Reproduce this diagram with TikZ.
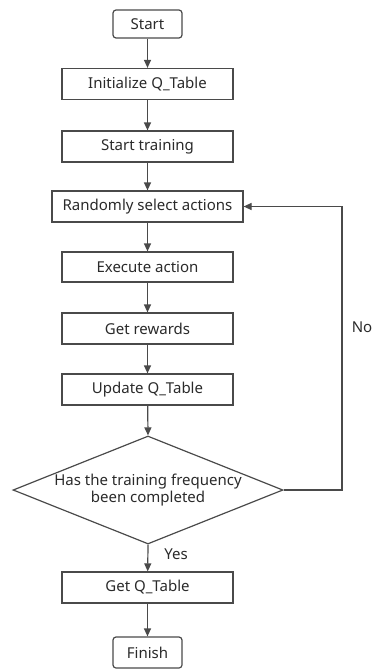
\documentclass[tikz,border=0pt]{standalone}
\usepackage{fontspec}
\setmainfont{Noto Sans}
\usetikzlibrary{shapes.geometric,arrows.meta}
\definecolor{linegray}{HTML}{4A4A4A}
\definecolor{txtgray}{HTML}{2A2A2A}
\begin{document}
\begin{tikzpicture}[x=1pt,y=-1pt,
  every node/.style={font=\fontsize{15}{18}\selectfont, text=txtgray},
  box/.style={draw=linegray, line width=1.2pt, rectangle, minimum width=171pt, minimum height=31pt, inner sep=0pt},
  terminal/.style={box, rounded corners=3pt, minimum width=69pt},
  flow/.style={draw=linegray, line width=1.2pt, -{Triangle[width=7pt,length=8pt]}}]
\useasboundingbox (0,0) rectangle (373,669);
\node[terminal, minimum height=28pt] (start) at (147.5,24) {Start};
\node[box] (init) at (147.5,84) {Initialize Q\_Table};
\node[box] (train) at (147.5,146.5) {Start training};
\node[box, minimum width=191pt] (rand) at (147.5,206.5) {Randomly select actions};
\node[box, minimum height=30pt] (exec) at (147.5,267) {Execute action};
\node[box] (rew) at (147.5,328.5) {Get rewards};
\node[box] (upd) at (147.5,389.5) {Update Q\_Table};
\node[diamond, draw=linegray, line width=1.2pt, minimum width=270pt, minimum height=108pt, inner sep=0pt] (dec) at (148,490) {};
\node[align=center, font=\fontsize{15}{17}\selectfont] (dectext) at (dec.center) {Has the training frequency\\been completed};
\node[box] (getq) at (147.5,587.5) {Get Q\_Table};
\node[terminal, minimum height=31pt] (finish) at (147.5,652.5) {Finish};
\coordinate (loopa) at (342,490);
\coordinate (loopb) at (342,206.5);
\draw[flow] (start) -- (init);
\draw[flow] (init) -- (train);
\draw[flow] (train) -- (rand);
\draw[flow] (rand) -- (exec);
\draw[flow] (exec) -- (rew);
\draw[flow] (rew) -- (upd);
\draw[flow] (upd) -- (dec.north);
\draw[flow] (dec.south) -- (getq);
\node (yes) at (176,554) {Yes};
\draw[flow] (getq) -- (finish);
\draw[flow] (dec.east) -- (loopa) -- (loopb) -- (rand.east);
\node (no) at (362,327) {No};
\end{tikzpicture}
\end{document}
